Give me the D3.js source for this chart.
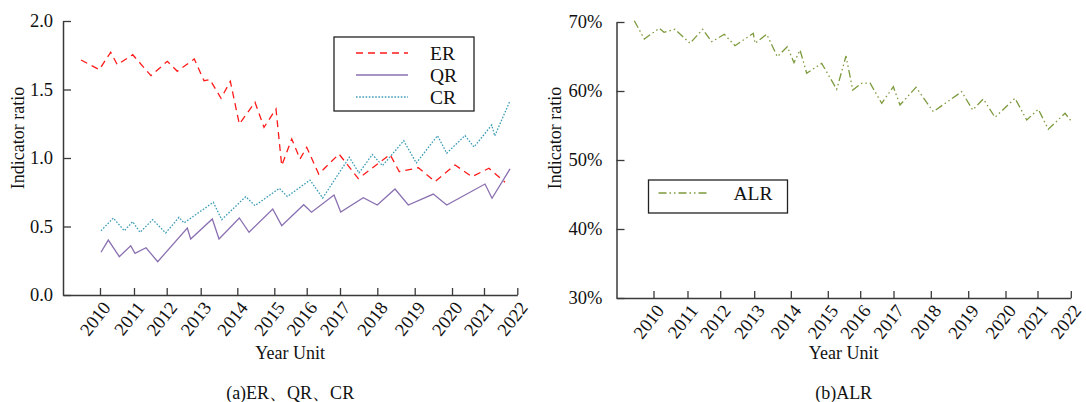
<!DOCTYPE html>
<html><head><meta charset="utf-8">
<script src="https://cdn.jsdelivr.net/npm/d3@7"></script>
<style>
html,body{margin:0;padding:0;background:#fff;}
svg{display:block;font-family:"Liberation Serif","Times New Roman",serif;}
</style></head>
<body>
<svg id="c" width="1086" height="402"></svg>
<script>
// ---- data ----
const yearLabels = ["2010","2011","2012","2013","2014","2015","2016","2017","2018","2019","2020","2021","2022"];
const yearTickAt = [2010.004,2010.982,2011.923,2012.901,2013.954,2015.018,2015.950,2016.908,2017.981,2019.057,2020.130,2021.050,2022.008];

const erT = [2009.458,2009.984,2010.312,2010.502,2010.945,2011.471,2011.940,2012.228,2012.717,2012.996,2013.169,2013.485,2013.753,2014.012,2014.463,2014.722,2015.067,2015.231,2015.519,2015.758,2015.950,2016.296,2016.880,2017.435,2018.347,2018.614,2019.161,2019.641,2020.216,2020.705,2021.194,2021.654];
const erV = [1.715,1.645,1.772,1.681,1.754,1.601,1.706,1.633,1.723,1.564,1.572,1.436,1.560,1.248,1.407,1.224,1.358,0.944,1.139,0.993,1.078,0.883,1.029,0.849,1.026,0.900,0.929,0.828,0.949,0.864,0.925,0.823];

const qrT = [2010.033,2010.243,2010.560,2010.888,2011.011,2011.328,2011.664,2012.516,2012.613,2013.235,2013.428,2014.012,2014.291,2014.973,2015.231,2015.864,2016.089,2016.736,2016.928,2017.578,2017.981,2018.490,2018.873,2019.592,2019.978,2021.079,2021.281,2021.799];
const qrV = [0.312,0.401,0.280,0.360,0.304,0.345,0.243,0.489,0.409,0.555,0.409,0.562,0.458,0.628,0.506,0.659,0.604,0.730,0.606,0.710,0.657,0.774,0.657,0.737,0.657,0.810,0.706,0.920];

const crT = [2010.033,2010.387,2010.703,2010.945,2011.155,2011.520,2011.894,2012.277,2012.421,2013.264,2013.505,2014.196,2014.463,2015.162,2015.392,2016.045,2016.410,2017.176,2017.455,2017.837,2018.131,2018.741,2019.103,2019.713,2019.978,2020.504,2020.763,2021.272,2021.359,2021.784];
const crV = [0.469,0.562,0.469,0.535,0.458,0.550,0.453,0.567,0.526,0.677,0.550,0.718,0.652,0.779,0.719,0.839,0.708,1.005,0.891,1.026,0.944,1.126,0.964,1.163,1.035,1.164,1.080,1.241,1.161,1.409];

const alrT = [2009.452,2009.740,2010.171,2010.306,2010.623,2011.054,2011.420,2011.679,2012.041,2012.349,2012.875,2012.924,2013.261,2013.566,2013.853,2014.046,2014.219,2014.411,2014.843,2015.274,2015.542,2015.735,2015.994,2016.232,2016.569,2016.903,2017.095,2017.555,2018.053,2018.870,2019.186,2019.491,2019.828,2020.403,2020.740,2021.074,2021.361,2021.842,2022.034];
const alrV = [70.19,67.54,69.09,68.51,68.94,66.91,68.94,67.14,68.22,66.57,68.36,66.91,68.22,64.97,66.42,64.10,65.94,62.57,64.01,60.25,65.07,60.14,61.12,61.16,58.22,60.62,57.97,60.54,57.00,59.90,57.25,58.84,56.19,58.94,55.80,57.35,54.45,56.77,55.55];

const leftTicks = [0, 0.5, 1.0, 1.5, 2.0];
const rightTicks = [30, 40, 50, 60, 70];

// ---- drawing ----
const svg = d3.select("#c");
const axisColor = "#3a3a3a";

function panel(opt){
  const g = svg.append("g");
  const x = d3.scaleLinear().domain([2008.94, 2022.008]).range(opt.xr);
  const y = d3.scaleLinear().domain(opt.yd).range(opt.yr);

  const ya = g.append("g").attr("transform",`translate(${opt.xr[0]},0)`)
    .call(d3.axisLeft(y).tickValues(opt.yTicks).tickSizeInner(-8).tickSizeOuter(0).tickPadding(opt.yPad).tickFormat(opt.yFmt));
  const xa = g.append("g").attr("transform",`translate(0,${opt.yr[0]})`)
    .call(d3.axisBottom(x).tickValues(yearTickAt).tickSizeInner(-7).tickSizeOuter(0)
      .tickFormat((d,i)=>yearLabels[i]));
  [ya,xa].forEach(a=>{
    a.select(".domain").attr("stroke",axisColor).attr("stroke-width",1.5);
    a.selectAll(".tick line").attr("stroke",axisColor).attr("stroke-width",1.3);
    a.selectAll("text").attr("fill","#111").attr("font-family",'"Liberation Serif",serif');
  });
  ya.selectAll("text").attr("font-size",18.5);
  xa.selectAll(".tick text")
    .attr("font-size",18.5)
    .attr("text-anchor","end").attr("dy",null).attr("y",null)
    .attr("transform","translate(11,13) rotate(-52)");

  g.append("text").attr("transform",`translate(${opt.xr[0]-opt.titleOff},138) rotate(-90)`)
    .attr("text-anchor","middle").attr("font-size",18).attr("fill","#111").text("Indicator ratio");
  const cx = (opt.xr[0]+opt.xr[1])/2;
  g.append("text").attr("x",cx).attr("y",359).attr("text-anchor","middle")
    .attr("font-size",18).attr("fill","#111").text("Year Unit");
  g.append("text").attr("x",cx).attr("y",399).attr("text-anchor","middle")
    .attr("font-size",18).attr("fill","#111").text(opt.caption);

  const line = d3.line().x(d=>x(d[0])).y(d=>y(d[1]));
  opt.series.forEach(s=>{
    g.append("path").datum(d3.zip(s.t,s.v)).attr("d",line)
      .attr("fill","none").attr("stroke",s.color).attr("stroke-width",s.w||1.3)
      .attr("stroke-dasharray",s.dash||null);
  });

  const L = opt.legend;
  g.append("rect").attr("x",L.x).attr("y",L.y).attr("width",L.w).attr("height",L.h)
    .attr("fill","#fff").attr("stroke","#222").attr("stroke-width",1.3);
  opt.series.forEach((s,i)=>{
    const ly = L.y + L.first + i*L.step;
    g.append("line").attr("x1",L.x+L.l1).attr("x2",L.x+L.l2).attr("y1",ly).attr("y2",ly)
      .attr("stroke",s.color).attr("stroke-width",s.w||1.3).attr("stroke-dasharray",s.dash||null);
    g.append("text").attr("x",L.x+L.tx).attr("y",ly).attr("dy","0.35em")
      .attr("font-size",19.5).attr("fill","#111").text(s.name);
  });
}

panel({
  xr:[63,517.3], yd:[0,2], yr:[295,21], yTicks:leftTicks, yPad:10, titleOff:39,
  yFmt:d3.format(".1f"), caption:"(a)ER、QR、CR",
  series:[
    {name:"ER", t:erT, v:erV, color:"#ff1a1a", dash:"7,5"},
    {name:"QR", t:qrT, v:qrV, color:"#8a70b0"},
    {name:"CR", t:crT, v:crV, color:"#3d9cb6", dash:"1.6,1.6"}
  ],
  legend:{x:334,y:37,w:140,h:74,first:16,step:22,l1:22,l2:74,tx:96}
});

panel({
  xr:[616.5,1070.8], yd:[30,70], yr:[298,22], yTicks:rightTicks, yPad:14, titleOff:56,
  yFmt:d=>d+"%", caption:"(b)ALR",
  series:[
    {name:"ALR", t:alrT, v:alrV, color:"#7d9a3e", dash:"8,3,1.5,3,1.5,3"}
  ],
  legend:{x:648.5,y:180,w:139,h:33,first:13,step:22,l1:10,l2:58,tx:85}
});
</script>
</body></html>
